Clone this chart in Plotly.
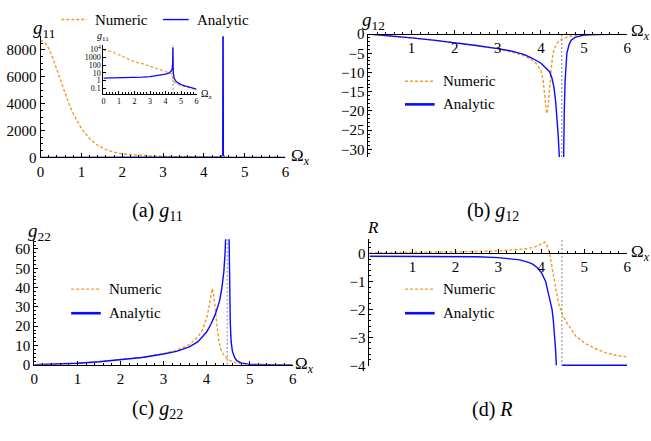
import plotly.graph_objects as go

W, H = 651, 441
FONT = "Liberation Serif"
ORANGE = "#F39A2E"
BLUE = "#0A0AFF"
GRAY = "#9A9A9A"

# ---------------- data ----------------
asymptote = 4.48

g11_num_x = [0, 0.1, 0.2, 0.3, 0.4, 0.5, 0.6, 0.7, 0.8, 0.9, 1.0, 1.2, 1.4, 1.6, 1.8, 2.0,
             2.25, 2.5, 3.0, 3.5, 4.0, 4.2, 4.3, 4.4, 4.47, 4.55, 4.7, 5.0, 5.5, 6.0]
g11_num_y = [8700, 8550, 8100, 7400, 6500, 5600, 4750, 3950, 3250, 2650, 2150, 1400, 900, 580, 380, 260,
             190, 150, 70, 32, 14, 10, 9, 6, 2, 0.6, 0.4, 0.22, 0.12, 0.07]

g11_ana_x = [0, 0.5, 1, 1.5, 2, 2.5, 3, 3.5, 3.8, 4.0, 4.2, 4.3, 4.38, 4.43, 4.46, 4.47, 4.48,
             4.5, 4.55, 4.6, 4.7, 4.8, 5.0, 5.25, 5.5, 5.75, 6.0]
g11_ana_y = [2.0, 2.05, 2.1, 2.2, 2.4, 2.7, 3.2, 4.2, 5.3, 6.5, 9, 12, 18, 35, 200, 20000, 200,
             8, 2.5, 1.3, 0.7, 0.5, 0.3, 0.2, 0.14, 0.1, 0.075]

g12_num_x = [0, 0.5, 1, 1.5, 2, 2.5, 3, 3.3, 3.6, 3.8, 3.9, 4.0, 4.05, 4.08, 4.11, 4.13, 4.16,
             4.19, 4.22, 4.26, 4.3, 4.35, 4.4, 4.5, 4.6, 4.75, 5.0, 5.5, 6.0]
g12_num_y = [0, -0.45, -1.0, -1.6, -2.3, -3.0, -3.9, -4.6, -5.6, -6.8, -7.8, -9.5, -12, -15.5, -19.5,
             -20.7, -19.5, -15, -10.5, -6.5, -4.2, -2.8, -2.0, -1.2, -0.8, -0.4, -0.15, -0.04, 0]

g12_ana_x = [0, 0.5, 1, 1.5, 2, 2.5, 3, 3.3, 3.6, 3.8, 4.0, 4.1, 4.2, 4.25, 4.3, 4.34, 4.37, 4.4,
             4.43, 4.45, None, 4.51, 4.52, 4.54, 4.56, 4.58, 4.6, 4.65, 4.7, 4.8, 4.9, 5.0, 5.25, 5.5, 6.0]
g12_ana_y = [0, -0.45, -1.0, -1.6, -2.25, -3.0, -3.8, -4.4, -5.3, -6.3, -7.6, -8.6, -9.8, -11.3, -13.8,
             -17.5, -21.5, -26.5, -33, -45, None, -45, -32, -20, -12, -7, -5, -2.8, -1.6, -0.8, -0.45,
             -0.3, -0.12, -0.06, -0.01]

g22_num_x = [0, 0.5, 1, 1.5, 2, 2.5, 3, 3.3, 3.6, 3.8, 3.9, 4.0, 4.05, 4.1, 4.13, 4.16, 4.2, 4.24,
             4.28, 4.33, 4.4, 4.5, 4.6, 4.7, 4.85, 5.0, 5.5, 6.0]
g22_num_y = [0.05, 0.25, 0.8, 1.6, 2.6, 3.9, 5.8, 7.5, 10.5, 14.5, 18, 24, 29, 36, 39.5, 37, 29, 20,
             13, 8, 5, 2.8, 1.6, 0.9, 0.4, 0.15, 0.02, 0]

g22_ana_x = [0, 0.5, 1, 1.5, 2, 2.5, 3, 3.3, 3.6, 3.8, 4.0, 4.1, 4.2, 4.3, 4.35, 4.4, 4.43, 4.45,
             None, 4.52, 4.53, 4.55, 4.57, 4.6, 4.65, 4.7, 4.8, 4.9, 5.0, 5.5, 6.0]
g22_ana_y = [0.05, 0.25, 0.8, 1.6, 2.6, 3.8, 5.6, 7, 9.3, 12, 17, 21, 26, 33, 39, 48, 58, 70,
             None, 70, 45, 22, 12, 7, 3.8, 2.2, 1.0, 0.5, 0.25, 0.05, 0]

R_num_x = [0, 1, 2, 2.5, 3, 3.3, 3.6, 3.8, 3.9, 4.0, 4.05, 4.08, 4.12, 4.16, 4.2, 4.25, 4.3, 4.35,
           4.4, 4.45, 4.5, 4.6, 4.7, 4.8, 5.0, 5.25, 5.5, 5.75, 6.0]
R_num_y = [0.02, 0.03, 0.05, 0.07, 0.09, 0.12, 0.16, 0.21, 0.26, 0.34, 0.4, 0.41, 0.33, 0.18, -0.05,
           -0.5, -1.05, -1.5, -1.8, -2.0, -2.2, -2.5, -2.75, -2.95, -3.2, -3.4, -3.55, -3.65, -3.7]

R_ana_x = [0, 1, 2, 2.5, 3, 3.3, 3.5, 3.7, 3.8, 3.9, 4.0, 4.1, 4.15, 4.2, 4.25, 4.28, 4.31, 4.33,
           4.35, None, 4.49, 6.0]
R_ana_y = [-0.1, -0.1, -0.11, -0.12, -0.15, -0.19, -0.23, -0.32, -0.38, -0.5, -0.68, -1.0, -1.3,
           -1.6, -2.0, -2.4, -2.9, -3.4, -4.0, None, -4.0, -4.0]

inset_tickvals = [0.1, 1, 10, 100, 1000, 10000]
inset_ticktext = ["0.1", "1", "10", "100", "1000", "10<sup>4</sup>"]

# ---------------- helpers ----------------
def px(x):
    return x / W


def py(y):
    return 1 - y / H


def num_trace(x, y, xa, ya, width=1.4):
    return go.Scatter(x=x, y=y, xaxis=xa, yaxis=ya, mode="lines", showlegend=False,
                      line=dict(color=ORANGE, width=width, dash="3px,2px"), hoverinfo="skip")


def ana_trace(x, y, xa, ya, width=1.4):
    return go.Scatter(x=x, y=y, xaxis=xa, yaxis=ya, mode="lines", showlegend=False,
                      line=dict(color=BLUE, width=width), connectgaps=False, hoverinfo="skip")


def axis(size=15, ticklen=4, minor_len=2, minor_dtick=None, **kw):
    d = dict(showline=True, linecolor="black", linewidth=1, ticks="inside", ticklen=ticklen,
             tickwidth=1, tickcolor="black", showgrid=False, zeroline=False,
             tickfont=dict(family=FONT, size=size, color="black"))
    if minor_dtick is not None:
        d["minor"] = dict(ticks="inside", ticklen=minor_len, tickcolor="black", tickwidth=1,
                          showgrid=False, dtick=minor_dtick, tick0=0)
    d.update(kw)
    return d


fig = go.Figure()
fig.add_trace(num_trace(g11_num_x, g11_num_y, "x", "y"))
fig.add_trace(ana_trace(g11_ana_x, g11_ana_y, "x", "y", width=1.2))
fig.add_trace(num_trace(g11_num_x, g11_num_y, "x2", "y2", width=1.2))
fig.add_trace(ana_trace(g11_ana_x, g11_ana_y, "x2", "y2", width=1.3))
fig.add_trace(num_trace(g12_num_x, g12_num_y, "x3", "y3"))
fig.add_trace(ana_trace(g12_ana_x, g12_ana_y, "x3", "y3"))
fig.add_trace(num_trace(g22_num_x, g22_num_y, "x4", "y4"))
fig.add_trace(ana_trace(g22_ana_x, g22_ana_y, "x4", "y4"))
fig.add_trace(num_trace(R_num_x, R_num_y, "x5", "y5"))
fig.add_trace(ana_trace(R_ana_x, R_ana_y, "x5", "y5"))

xt = [0, 1, 2, 3, 4, 5, 6]
xt_no0 = ["", "1", "2", "3", "4", "5", "6"]

fig.update_layout(
    width=W, height=H, margin=dict(l=0, r=0, t=0, b=0),
    paper_bgcolor="white", plot_bgcolor="rgba(0,0,0,0)",
    font=dict(family=FONT, color="black", size=15),
    showlegend=False,
    xaxis=axis(domain=[px(37), px(285)], range=[0, 6], anchor="y",
               tickmode="linear", tick0=0, dtick=1, minor_dtick=0.2, linewidth=1.3),
    yaxis=axis(domain=[py(155), py(29.4)], range=[0, 9000], anchor="x",
               tickmode="linear", tick0=0, dtick=2000, minor_dtick=500),
    xaxis2=axis(size=8, ticklen=2.5, minor_len=1.5, domain=[px(100.7), px(195)], range=[0, 6],
                anchor="y2", tickmode="linear", tick0=0, dtick=1, minor_dtick=0.2),
    yaxis2=axis(size=8, ticklen=2.5, domain=[py(89), py(38.3)], type="log", range=[-1.71, 4.6],
                anchor="x2", tickmode="array", tickvals=inset_tickvals, ticktext=inset_ticktext),
    xaxis3=axis(domain=[px(369), px(631)], range=[0, 6], anchor="free", position=py(27),
                side="bottom", tickmode="array", tickvals=xt, ticktext=xt_no0, minor_dtick=0.2),
    yaxis3=axis(domain=[py(154.7), py(27)], range=[-32, 0], anchor="x3",
                tickmode="linear", tick0=0, dtick=5, minor_dtick=1),
    xaxis4=axis(domain=[px(30.7), px(292.3)], range=[0, 6], anchor="y4",
                tickmode="linear", tick0=0, dtick=1, minor_dtick=0.2),
    yaxis4=axis(domain=[py(370.3), py(240)], range=[0, 65], anchor="x4",
                tickmode="linear", tick0=0, dtick=10, minor_dtick=2),
    xaxis5=axis(domain=[px(370), px(631)], range=[0, 6], anchor="free", position=py(254.7),
                side="bottom", tickmode="array", tickvals=xt, ticktext=xt_no0, minor_dtick=0.2),
    yaxis5=axis(domain=[py(371.6), py(240.2)], range=[-4.03, 0.5], anchor="x5",
                tickmode="linear", tick0=0, dtick=1, minor_dtick=0.2),
)

# asymptote dotted lines
for xa in ["x2", "x3", "x4", "x5"]:
    ya = "y" + xa[1:]
    fig.add_shape(type="line", xref=xa, yref=ya + " domain", x0=asymptote, x1=asymptote, y0=0, y1=1,
                  line=dict(color=GRAY, width=1.2, dash="2px,2px"), layer="below")

ann = []


def text(x, y, s, size, xanchor="left", yanchor="middle"):
    ann.append(dict(x=px(x), y=py(y), xref="paper", yref="paper", text=s, showarrow=False,
                    xanchor=xanchor, yanchor=yanchor, font=dict(family=FONT, size=size, color="black")))


def legend_item(x0, x1, y, kind, label, width):
    if kind == "num":
        line = dict(color=ORANGE, width=1.4, dash="3px,2px")
    else:
        line = dict(color=BLUE, width=width)
    fig.add_shape(type="line", xref="paper", yref="paper", x0=px(x0), x1=px(x1), y0=py(y), y1=py(y),
                  line=line)
    text(x1 + 6, y, label, 15)


# legends
legend_item(58, 84, 12, "num", "Numeric", 1.4)
legend_item(161, 187, 12, "ana", "Analytic", 1.4)
for (lx, ly1, ly2) in [(406, 76, 100), (68, 291.7, 316.7), (406, 291.7, 316.7)]:
    legend_item(lx, lx + 30, ly1, "num", "Numeric", 1.4)
    legend_item(lx, lx + 30, ly2, "ana", "Analytic", 2.6)

OM = "Ω<sub><i>x</i></sub>"
# axis labels
text(27, 22, "<i>g</i><sub>11</sub>", 19)
text(360, 14, "<i>g</i><sub>12</sub>", 19)
text(22, 232, "<i>g</i><sub>22</sub>", 19)
text(365, 228, "<i>R</i>", 17)
text(289, 155, OM, 17)
text(633, 25, OM, 17)
text(293, 370, OM, 17)
text(633, 254, OM, 17)
# inset labels
text(92, 30, "<i>g</i><sub>11</sub>", 10)
text(197, 90, OM, 10)
# captions
text(155, 211, "(a) <i>g</i><sub>11</sub>", 20, xanchor="center")
text(495, 211, "(b) <i>g</i><sub>12</sub>", 20, xanchor="center")
text(155, 417, "(c) <i>g</i><sub>22</sub>", 20, xanchor="center")
text(495, 417, "(d) <i>R</i>", 20, xanchor="center")

fig.update_layout(annotations=ann)
fig.write_html("out.html")
